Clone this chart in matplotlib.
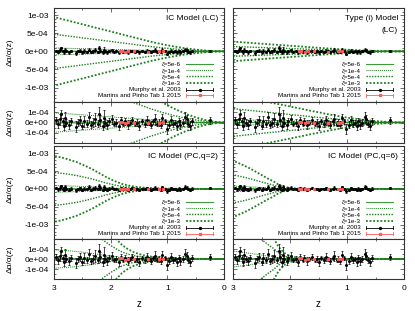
#! /usr/bin/env python3

'''
Four model panels of delta alpha / alpha versus redshift,
each with a zoomed lower panel, gnuplot style.
'''

import numpy as np
import matplotlib
matplotlib.use('Agg')
import matplotlib.pyplot as plt
from matplotlib.ticker import FuncFormatter, MultipleLocator, FixedLocator

plt.rcParams['font.family'] = ['Liberation Sans', 'DejaVu Sans']

# redshift grid of the model curves
z_grid = [0.0, 0.1, 0.2, 0.3, 0.4, 0.5, 0.6, 0.7, 0.8, 0.9, 1.0,
          1.1, 1.2, 1.3, 1.4, 1.5, 1.6, 1.7, 1.8, 1.9, 2.0,
          2.1, 2.2, 2.3, 2.4, 2.5, 2.6, 2.7, 2.8, 2.9, 3.0]

# curve shape per unit zeta
shape_ic_lc = [0, 0.004, 0.01, 0.02, 0.035, 0.05, 0.07, 0.09, 0.115, 0.14, 0.17,
               0.20, 0.235, 0.27, 0.31, 0.35, 0.39, 0.43, 0.47, 0.51, 0.55,
               0.59, 0.63, 0.67, 0.71, 0.75, 0.79, 0.83, 0.87, 0.91, 0.95]
shape_i_lc = [0, 0.001, 0.003, 0.006, 0.01, 0.014, 0.02, 0.026, 0.033, 0.04, 0.048,
              0.057, 0.067, 0.077, 0.088, 0.10, 0.11, 0.122, 0.134, 0.145, 0.156,
              0.168, 0.179, 0.19, 0.202, 0.213, 0.224, 0.236, 0.247, 0.259, 0.27]
shape_pc2 = [0, 0, 0, 0.001, 0.001, 0.002, 0.003, 0.004, 0.005, 0.007, 0.01,
             0.013, 0.018, 0.025, 0.035, 0.05, 0.07, 0.10, 0.14, 0.20, 0.27,
             0.35, 0.44, 0.53, 0.61, 0.68, 0.75, 0.80, 0.85, 0.89, 0.92]
shape_pc6 = [0, 0, 0, 0, 0, 0, 0, 0, 0, 0, 0,
             0, 0, 0, 0, 0, 0.002, 0.004, 0.008, 0.015, 0.03,
             0.06, 0.12, 0.22, 0.30, 0.39, 0.48, 0.57, 0.65, 0.72, 0.79]

zetas = [5e-6, 1e-4, 5e-4, 1e-3]
zeta_labels = ['\u03b6=5e-6', '\u03b6=1e-4', '\u03b6=5e-4', '\u03b6=1e-3']

# Murphy et al. 2003 (values and errors in 1e-5)
murphy_z = [2.96, 2.93, 2.90, 2.87, 2.85, 2.82, 2.80, 2.78, 2.74, 2.70,
            2.62, 2.58, 2.55, 2.50, 2.47, 2.42, 2.38, 2.35,
            2.31, 2.28, 2.22, 2.20, 2.18, 2.14, 2.12, 2.10, 2.06, 2.03,
            1.98, 1.94, 1.90, 1.86, 1.82, 1.78, 1.75, 1.70, 1.66, 1.62, 1.57,
            1.53, 1.50, 1.45, 1.40, 1.36, 1.33, 1.29, 1.25, 1.22, 1.18,
            1.15, 1.12, 1.09, 1.05, 1.01, 0.97, 0.93, 0.90, 0.86, 0.83, 0.80,
            0.77, 0.73, 0.69, 0.66, 0.63, 0.60, 0.57, 0.25]
murphy_v = [2, -1, 3, 8, 1, -3, 4, 0, -2, 1,
            -4, 0, 2, -3, 1, -1, 5, -2,
            0, 3, -1, 8, 2, -3, 4, 0, -2, 1,
            3, -1, 0, -3, 2, -1, 1, -2, 0, 2, -1,
            0, -3, 1, -1, 2, 0, -2, 1, 3, -1,
            0, -2, 4, 1, -6, -2, 2, -1, 0, -3, 1,
            -2, 0, 5, 3, -1, -3, 1, 2]
murphy_e = [3, 4, 5, 4, 3, 4, 6, 3, 4, 3,
            5, 3, 4, 3, 5, 3, 5, 3,
            4, 6, 3, 7, 5, 4, 8, 3, 4, 3,
            4, 2, 3, 4, 3, 2, 3, 4, 2, 3, 2,
            3, 4, 2, 3, 4, 2, 3, 2, 5, 2,
            3, 3, 4, 2, 5, 3, 4, 3, 2, 4, 3,
            4, 3, 5, 4, 3, 4, 3, 3]

# Martins and Pinho Tab 1 2015 (values and errors in 1e-6)
martins_z = [1.08, 1.14, 1.15, 1.34, 1.58, 1.69, 1.74, 1.80, 1.84]
martins_v = [4.3, -0.1, -1.4, -4.5, -1.5, 1.3, -7.9, 5.7, 5.7]
martins_e = [3.4, 1.8, 0.9, 8.7, 2.6, 2.6, 6.2, 2.7, 2.7]

main_ticks = [-1e-3, -5e-4, 0, 5e-4, 1e-3]
sub_ticks = [-1e-4, 0, 1e-4]

titles = ['IC Model (LC)', 'Type (i) Model\n(LC)',
          'IC Model (PC,q=2)', 'IC Model (PC,q=6)']
shapes = [shape_ic_lc, shape_i_lc, shape_pc2, shape_pc6]
data_labels = ['Murphy et al. 2003', 'Martins and Pinho Tab 1 2015']

W, H = 415, 311
green_solid = '#3c9c3c'
green_dot = '#1b7f1b'
red = '#ff5a5a'
frame = '#333333'

styles = [
    dict(color=green_solid, lw=0.8, ls='-'),
    dict(color=green_dot, lw=0.7, ls=(0, (1, 1))),
    dict(color=green_dot, lw=1.0, ls=(0, (1, 1))),
    dict(color=green_dot, lw=1.3, ls=(0, (1, 1))),
]

sci = FuncFormatter(lambda v, pos: '%.0e' % v)


def box(x0, y0, x1, y1):
    'pixel box (from top left) to figure fraction'
    return [x0 / W, 1 - y1 / H, (x1 - x0) / W, (y1 - y0) / H]


def style_axes(ax, ticks, minor_y, show_x, show_y):
    ax.set_xlim(3, 0)
    ax.xaxis.set_major_locator(MultipleLocator(1))
    ax.xaxis.set_minor_locator(MultipleLocator(0.5))
    ax.yaxis.set_major_locator(FixedLocator(ticks))
    ax.yaxis.set_minor_locator(MultipleLocator(minor_y))
    ax.yaxis.set_major_formatter(sci)
    ax.xaxis.set_major_formatter(FuncFormatter(lambda v, pos: '%g' % v))
    ax.tick_params(which='both', direction='in', top=True, right=True,
                   width=0.5, colors=frame, labelcolor='black', labelsize=6)
    ax.tick_params(which='major', length=3)
    ax.tick_params(which='minor', length=1.5)
    ax.tick_params(axis='x', pad=4.5, labelbottom=show_x)
    ax.tick_params(axis='y', pad=4, labelleft=show_y)
    for spine in ax.spines.values():
        spine.set_color(frame)
        spine.set_linewidth(0.8)


def draw_data(ax, shape):
    for zeta, st in zip(zetas, styles):
        for sign in (1, -1):
            ax.plot(z_grid, sign * zeta * np.array(shape), **st)
    ax.errorbar(murphy_z, np.array(murphy_v) * 1e-5,
                yerr=np.array(murphy_e) * 1e-5, fmt='o', ms=1.2,
                color='black', elinewidth=0.5, capsize=0.8, capthick=0.5)
    ax.errorbar(martins_z, np.array(martins_v) * 1e-6,
                yerr=np.array(martins_e) * 1e-6, fmt='s', ms=1.2,
                color=red, elinewidth=0.5, capsize=1.2, capthick=0.5)


def key(fig, x_right, y_top):
    'gnuplot-like key: text right aligned, sample on the right (pixels)'
    rows = [0, 6.2, 12.4, 18.6, 25.5, 31.5]
    t_right = x_right - 32
    for j, (label, dy) in enumerate(zip(zeta_labels + data_labels, rows)):
        yf = 1 - (y_top + dy) / H
        fig.text(t_right / W, yf, label, ha='right', va='center',
                 fontsize=4.5)
        xs = [(x_right - 27) / W, x_right / W]
        if j < 4:
            fig.add_artist(plt.Line2D(xs, [yf, yf], **styles[j]))
        else:
            col = 'black' if j == 4 else red
            fig.add_artist(plt.Line2D(xs, [yf, yf], color=col, lw=0.6))
            for xe in xs:
                fig.add_artist(plt.Line2D([xe, xe], [yf - 1.2 / H, yf + 1.2 / H],
                                          color=col, lw=0.6))
            fig.add_artist(plt.Line2D([sum(xs) / 2], [yf], color=col,
                                      marker='o' if j == 4 else 's', ms=1.4))


fig = plt.figure(figsize=(W / 100, H / 100), dpi=100)

cols = [(54, 224), (233, 404)]
rows = [(8, 102, 143), (146, 239, 279)]

for i, (title, shape) in enumerate(zip(titles, shapes)):
    r, c = divmod(i, 2)
    x0, x1 = cols[c]
    y0, ym, y1 = rows[r]
    ax = fig.add_axes(box(x0, y0, x1, ym))
    sub = fig.add_axes(box(x0, ym, x1, y1))

    draw_data(ax, shape)
    ax.set_ylim(-1.4e-3, 1.2e-3)
    style_axes(ax, main_ticks, 1e-4, False, c == 0)
    for k, line in enumerate(title.split('\n')):
        fig.text((x1 - 6) / W, 1 - (y0 + 11 + 11 * k) / H, line,
                 ha='right', va='center', fontsize=6)

    key(fig, x1 - 11, y0 + 56)

    draw_data(sub, shape)
    sub.set_ylim(-2e-4, 2e-4)
    style_axes(sub, sub_ticks, 5e-5, r == 1, c == 0)

    if c == 0:
        fig.text(10 / W, 1 - (y0 + 0.47 * (ym - y0)) / H, '\u0394\u03b1/\u03b1(z)',
                 rotation=90, ha='center', va='center', fontsize=6)
        fig.text(10 / W, 1 - (ym + 0.5 * (y1 - ym)) / H, '\u0394\u03b1/\u03b1(z)',
                 rotation=90, ha='center', va='center', fontsize=6)
    if r == 1:
        fig.text((x0 + x1) / 2 / W, 1 - 304 / H, 'z', ha='center',
                 va='center', fontsize=7)

fig.savefig('out.png', dpi=100)
